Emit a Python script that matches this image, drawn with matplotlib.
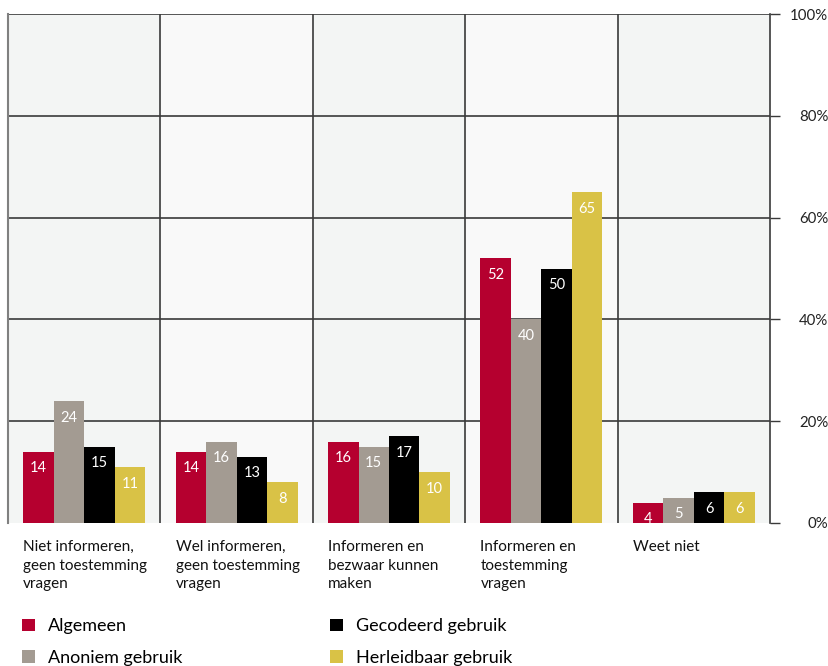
import matplotlib
matplotlib.use("Agg")
import matplotlib.pyplot as plt
import matplotlib.transforms as mtransforms
from matplotlib.patches import Patch
import numpy as np

plt.rcParams['font.family'] = ['Lato', 'DejaVu Sans']

categories = ["Niet informeren,\ngeen toestemming\nvragen",
              "Wel informeren,\ngeen toestemming\nvragen",
              "Informeren en\nbezwaar kunnen\nmaken",
              "Informeren en\ntoestemming\nvragen",
              "Weet niet"]
series_names = ["Algemeen", "Anoniem gebruik", "Gecodeerd gebruik", "Herleidbaar gebruik"]
algemeen = [14, 14, 16, 52, 4]
anoniem = [24, 16, 15, 40, 5]
gecodeerd = [15, 13, 17, 50, 6]
herleidbaar = [11, 8, 10, 65, 6]
yticks = [0, 20, 40, 60, 80, 100]
ytick_labels = ["0%", "20%", "40%", "60%", "80%", "100%"]

series = [algemeen, anoniem, gecodeerd, herleidbaar]
colors = ["#b5002f", "#a39b92", "#000000", "#d9c246"]

fig = plt.figure(figsize=(8.29, 6.66), dpi=100)
ax = fig.add_axes([8/829, 143/666, 762/829, 509/666])

n = len(categories)
x = np.arange(n)
bw = 0.2
offsets = [-0.3, -0.1, 0.1, 0.3]

# alternating column backgrounds
for i in range(n):
    ax.axvspan(i - 0.5, i + 0.5, color="#f3f5f4" if i % 2 == 0 else "#f9f9f9", zorder=0, lw=0)

ax.set_xlim(-0.5, n - 0.5)
ax.set_ylim(0, 100)

# grid lines
for yv in yticks[1:]:
    ax.axhline(yv, color="#3a3a3a", lw=1.2, zorder=1)
for i in range(1, n):
    ax.axvline(i - 0.5, color="#3a3a3a", lw=1.2, zorder=1)

for s, vals, c, off in zip(series_names, series, colors, offsets):
    bars = ax.bar(x + off, vals, width=bw, color=c, zorder=2, label=s)
    for b, v in zip(bars, vals):
        ax.annotate(str(v), (b.get_x() + b.get_width() / 2, v), xytext=(0, -12),
                    textcoords="offset points", ha="center", va="center",
                    color="white", fontsize=10.5, zorder=3)

for sp in ["top", "bottom"]:
    ax.spines[sp].set_visible(False)
ax.spines["left"].set_color("#808080")
ax.spines["left"].set_linewidth(1.5)
ax.spines["right"].set_color("#3a3a3a")
ax.spines["right"].set_linewidth(1.2)

ax.set_xticks([])
ax.yaxis.tick_right()
ax.set_yticks(yticks)
ax.set_yticklabels(ytick_labels, fontsize=10.8, color="#222222")
ax.tick_params(axis="y", length=7.5, width=1.0, color="#3a3a3a", pad=34.5)
for lab in ax.get_yticklabels():
    lab.set_horizontalalignment("right")

trans = mtransforms.blended_transform_factory(ax.transData, ax.transAxes)
for i, cat in enumerate(categories):
    ax.text(i - 0.4, -0.034, cat, transform=trans, ha="left", va="top",
            fontsize=11, color="#111111", linespacing=1.4)

handles = [Patch(facecolor=c, edgecolor="none") for c in colors]
fig.legend(handles, series_names, loc="upper left", bbox_to_anchor=(15/829, 1 - 611/666),
           ncol=2, frameon=False, fontsize=13, handlelength=0.7, handleheight=0.7,
           handletextpad=0.75, columnspacing=8.15, labelspacing=0.85, borderaxespad=0)

fig.savefig("out.png", dpi=100)
